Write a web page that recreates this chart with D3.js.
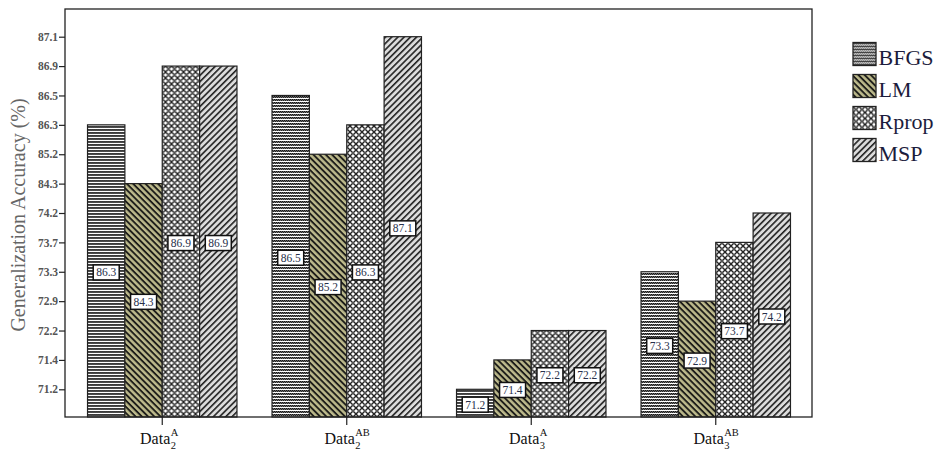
<!DOCTYPE html>
<html>
<head>
<meta charset="utf-8">
<script src="https://cdn.jsdelivr.net/npm/d3@7"></script>
<style>
  body { margin: 0; background: #fff; }
  svg { font-family: "Liberation Serif", "Times New Roman", serif; }
</style>
</head>
<body>
<script>
// 数据
let categories = ['Data2A', 'Data2AB', 'Data3A', 'Data3AB']
let catBase = ['Data', 'Data', 'Data', 'Data']
let catSub = ['2', '2', '3', '3']
let catSup = ['A', 'AB', 'A', 'AB']
let methods = ['BFGS', 'LM', 'Rprop', 'MSP']
let BFGS = [86.3, 86.5, 71.2, 73.3]
let LM = [84.3, 85.2, 71.4, 72.9]
let Rprop = [86.9, 86.3, 72.2, 73.7]
let MSP = [86.9, 87.1, 72.2, 74.2]
// y轴刻度（等距排列的刻度标签）
let yTicks = ['71.2', '71.4', '72.2', '72.9', '73.3', '73.7', '74.2', '84.3', '85.2', '86.3', '86.5', '86.9', '87.1']

let width = 939
let height = 450
let frame = { left: 65, top: 9, right: 812, bottom: 417 }

let series = { BFGS: BFGS, LM: LM, Rprop: Rprop, MSP: MSP }
let tableData = categories.map((c, i) => {
  let row = { cat: c }
  methods.forEach(m => { row[m] = series[m][i] })
  return row
})

let svg = d3.select('body').append('svg')
  .attr('width', width)
  .attr('height', height)

// 填充图案
let defs = svg.append('defs')
let pBFGS = defs.append('pattern').attr('id', 'p-BFGS')
  .attr('patternUnits', 'userSpaceOnUse').attr('width', 2).attr('height', 3)
pBFGS.append('rect').attr('width', 2).attr('height', 3).attr('fill', '#fff')
pBFGS.append('rect').attr('x', 0).attr('y', 0).attr('width', 1).attr('height', 1).attr('fill', '#111')
pBFGS.append('rect').attr('x', 1).attr('y', 0).attr('width', 1).attr('height', 1).attr('fill', '#666')
pBFGS.append('rect').attr('x', 0).attr('y', 1).attr('width', 1).attr('height', 1).attr('fill', '#777')
pBFGS.append('rect').attr('x', 1).attr('y', 1).attr('width', 1).attr('height', 1).attr('fill', '#222')

let pLM = defs.append('pattern').attr('id', 'p-LM')
  .attr('patternUnits', 'userSpaceOnUse').attr('width', 8).attr('height', 4.4)
  .attr('patternTransform', 'rotate(45)')
pLM.append('rect').attr('width', 8).attr('height', 4.4).attr('fill', '#bdba8c')
pLM.append('rect').attr('width', 8).attr('height', 1.9).attr('fill', '#1e1e1a')

let pRprop = defs.append('pattern').attr('id', 'p-Rprop')
  .attr('patternUnits', 'userSpaceOnUse').attr('width', 6).attr('height', 6)
pRprop.append('rect').attr('width', 6).attr('height', 6).attr('fill', '#fff')
pRprop.append('path').attr('d', 'M0,0L6,6M6,0L0,6').attr('stroke', '#222').attr('stroke-width', 1.4)
pRprop.append('circle').attr('cx', 3).attr('cy', 3).attr('r', 1.2).attr('fill', '#555')

let pMSP = defs.append('pattern').attr('id', 'p-MSP')
  .attr('patternUnits', 'userSpaceOnUse').attr('width', 8).attr('height', 4.4)
  .attr('patternTransform', 'rotate(-45)')
pMSP.append('rect').attr('width', 8).attr('height', 4.4).attr('fill', '#dcdcdc')
pMSP.append('rect').attr('width', 8).attr('height', 1.6).attr('fill', '#222')

// 比例尺
let x0 = d3.scaleBand().domain(categories).range([70, 808])
  .paddingInner(0.19).paddingOuter(0.095)
let x1 = d3.scaleBand().domain(methods).range([0, x0.bandwidth()])
let yScale = d3.scalePoint().domain(yTicks).range([389.3, 36.7])

// 柱子
let groups = svg.selectAll('.group')
  .data(tableData)
  .enter()
  .append('g')
  .attr('class', 'group')
  .attr('transform', d => 'translate(' + x0(d.cat) + ',0)')

let bars = groups.selectAll('.bar')
  .data(d => methods.map(m => ({ key: m, value: d[m] })))
  .enter()
  .append('g')
  .attr('class', 'bar')

bars.append('rect')
  .attr('x', d => x1(d.key))
  .attr('y', d => yScale(d.value.toFixed(1)))
  .attr('width', x1.bandwidth())
  .attr('height', d => frame.bottom - yScale(d.value.toFixed(1)))
  .attr('fill', d => 'url(#p-' + d.key + ')')
  .attr('stroke', '#222')
  .attr('stroke-width', 1.2)

// 数值标签
let labW = 26
let labH = 15
bars.append('rect')
  .attr('x', d => x1(d.key) + x1.bandwidth() / 2 - labW / 2)
  .attr('y', d => (yScale(d.value.toFixed(1)) + frame.bottom) / 2 - labH / 2 + 1.5)
  .attr('width', labW)
  .attr('height', labH)
  .attr('fill', '#fff')
  .attr('stroke', '#111')
  .attr('stroke-width', 1.5)
bars.append('text')
  .attr('x', d => x1(d.key) + x1.bandwidth() / 2)
  .attr('y', d => (yScale(d.value.toFixed(1)) + frame.bottom) / 2 + 1.5)
  .attr('dy', '0.35em')
  .attr('text-anchor', 'middle')
  .attr('font-size', '11.5px')
  .attr('fill', '#28304a')
  .text(d => d.value.toFixed(1))

// 边框
svg.append('rect')
  .attr('x', frame.left).attr('y', frame.top)
  .attr('width', frame.right - frame.left)
  .attr('height', frame.bottom - frame.top)
  .attr('fill', 'none')
  .attr('stroke', '#222')
  .attr('stroke-width', 1.3)

// y轴
let yAxis = svg.append('g')
  .attr('transform', 'translate(' + frame.left + ',0)')
  .call(d3.axisLeft(yScale).tickSize(6).tickPadding(1))
yAxis.select('.domain').remove()
yAxis.selectAll('.tick line').attr('stroke', '#222').attr('stroke-width', 1.2)
yAxis.selectAll('.tick text')
  .attr('font-family', '"Liberation Serif", serif')
  .attr('font-size', '11.5px')
  .attr('font-weight', 'bold')
  .attr('fill', '#555')

// x轴
let xAxis = svg.append('g')
  .attr('transform', 'translate(0,' + frame.bottom + ')')
  .call(d3.axisBottom(x0).tickSize(8).tickFormat(''))
xAxis.select('.domain').remove()
xAxis.selectAll('.tick line').attr('stroke', '#222').attr('stroke-width', 1.2)

let xLabels = svg.selectAll('.xlabel')
  .data(categories)
  .enter()
  .append('g')
  .attr('class', 'xlabel')
  .attr('transform', d => 'translate(' + (x0(d) + x0.bandwidth() / 2 + 8) + ',0)')
xLabels.append('text')
  .attr('x', 0).attr('y', 444)
  .attr('text-anchor', 'end')
  .attr('font-size', '16px')
  .attr('fill', '#111')
  .text((d, i) => catBase[i])
xLabels.append('text')
  .attr('x', 0.5).attr('y', 449)
  .attr('font-size', '10.5px')
  .attr('fill', '#111')
  .text((d, i) => catSub[i])
xLabels.append('text')
  .attr('x', 0.5).attr('y', 436)
  .attr('font-size', '10.5px')
  .attr('fill', '#111')
  .text((d, i) => catSup[i])

// y轴标题
svg.append('text')
  .attr('transform', 'translate(25,' + 215 + ') rotate(-90)')
  .attr('text-anchor', 'middle')
  .attr('font-size', '20px')
  .attr('fill', '#666')
  .text('Generalization Accuracy (%)')

// 图例
let legend = svg.selectAll('.legend')
  .data(methods)
  .enter()
  .append('g')
  .attr('class', 'legend')
  .attr('transform', (d, i) => 'translate(853,' + (42.5 + 32 * i) + ')')
legend.append('rect')
  .attr('width', 23)
  .attr('height', 23)
  .attr('fill', d => 'url(#p-' + d + ')')
  .attr('stroke', '#222')
  .attr('stroke-width', 1.3)
legend.append('text')
  .attr('x', 25.5)
  .attr('y', 22)
  .attr('font-size', '22px')
  .attr('fill', '#1c1c3c')
  .text(d => d)
</script>
</body>
</html>
